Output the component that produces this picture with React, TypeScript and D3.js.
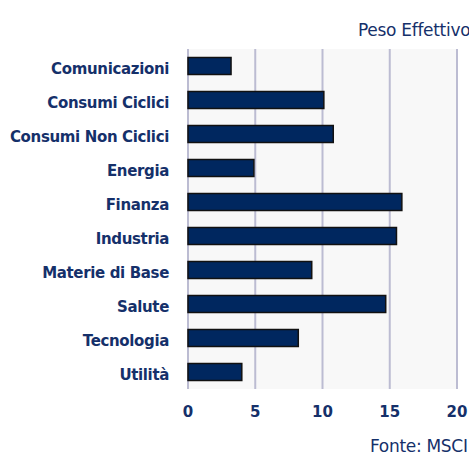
import React from 'react';
import * as d3 from 'd3';

const categories = [
  'Comunicazioni',
  'Consumi Ciclici',
  'Consumi Non Ciclici',
  'Energia',
  'Finanza',
  'Industria',
  'Materie di Base',
  'Salute',
  'Tecnologia',
  'Utilità',
];
const pesoEffettivo = [3.2, 10.1, 10.8, 4.9, 15.9, 15.5, 9.2, 14.7, 8.2, 4.0];
const xTicks = [0, 5, 10, 15, 20];

const width = 469;
const height = 457;
const margin = { top: 49, right: 12, bottom: 68, left: 188 };
const navy = '#15306a';

const App: React.FC = () => {
  const innerW = width - margin.left - margin.right;
  const innerH = height - margin.top - margin.bottom;

  const x = d3.scaleLinear().domain([0, 20]).range([0, innerW]);
  const y = d3.scaleBand().domain(categories).range([0, innerH]).paddingInner(0.5).paddingOuter(0.25);
  const band = d3.scaleBand().domain(categories).range([0, innerH]);

  return (
    <svg width={width} height={height} style={{ position: 'absolute', left: 0, top: 0, fontFamily: '"DejaVu Sans", Verdana, sans-serif' }}>
      <rect width={width} height={height} fill="#fff" />
      <text x={358} y={36} fontSize={17} letterSpacing={-0.3} fill={navy}>Peso Effettivo</text>
      <g transform={`translate(${margin.left},${margin.top})`}>
        <rect width={innerW} height={innerH} fill="#f8f8f8" />
        {/* grid */}
        {xTicks.map(t => (
          <line key={t} x1={x(t)} x2={x(t)} y1={0} y2={innerH} stroke="#bcbcd2" strokeWidth={2} />
        ))}
        {/* bars */}
        {categories.map((c, i) => (
          <rect
            key={c}
            x={x(0)}
            y={band(c)! + band.bandwidth() / 2 - y.bandwidth() / 2}
            width={x(pesoEffettivo[i]) - x(0)}
            height={y.bandwidth()}
            fill="#00275f"
            stroke="#111"
            strokeWidth={1.5}
          />
        ))}
        {/* category labels */}
        {categories.map(c => (
          <text
            key={c}
            x={-19}
            y={band(c)! + band.bandwidth() / 2 + 7.5}
            textAnchor="end"
            fontSize={15}
            letterSpacing={-0.35}
            fontWeight="bold"
            fill={navy}
          >
            {c}
          </text>
        ))}
        {/* x tick labels */}
        {xTicks.map(t => (
          <text key={t} x={x(t)} y={innerH + 28} textAnchor="middle" fontSize={15} fontWeight="bold" fill={navy}>
            {t}
          </text>
        ))}
      </g>
      <text x={370} y={452} fontSize={17} letterSpacing={-0.3} fill={navy}>Fonte: MSCI</text>
    </svg>
  );
};

export default App;
